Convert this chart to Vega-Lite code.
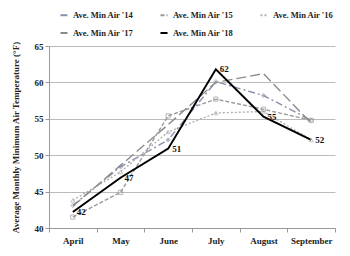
{
  "$schema": "https://vega.github.io/schema/vega-lite/v6.json",
  "width": 286,
  "height": 182,
  "autosize": "none",
  "padding": {"left": 49, "top": 46, "right": 15, "bottom": 28},
  "background": "white",
  "config": {
    "font": "Liberation Serif",
    "view": {"stroke": null}
  },
  "data": {
    "values": [
      {"month": "April", "series": "Ave. Min Air '14", "temp": 43.1},
      {"month": "May", "series": "Ave. Min Air '14", "temp": 48.4},
      {"month": "June", "series": "Ave. Min Air '14", "temp": 52.1},
      {"month": "July", "series": "Ave. Min Air '14", "temp": 60.1},
      {"month": "August", "series": "Ave. Min Air '14", "temp": 58.2},
      {"month": "September", "series": "Ave. Min Air '14", "temp": 54.8},
      {"month": "April", "series": "Ave. Min Air '15", "temp": 41.5},
      {"month": "May", "series": "Ave. Min Air '15", "temp": 44.9},
      {"month": "June", "series": "Ave. Min Air '15", "temp": 55.4},
      {"month": "July", "series": "Ave. Min Air '15", "temp": 57.7},
      {"month": "August", "series": "Ave. Min Air '15", "temp": 56.3},
      {"month": "September", "series": "Ave. Min Air '15", "temp": 54.8},
      {"month": "April", "series": "Ave. Min Air '16", "temp": 43.8},
      {"month": "May", "series": "Ave. Min Air '16", "temp": 47.7},
      {"month": "June", "series": "Ave. Min Air '16", "temp": 53.2},
      {"month": "July", "series": "Ave. Min Air '16", "temp": 55.8},
      {"month": "August", "series": "Ave. Min Air '16", "temp": 56.0},
      {"month": "September", "series": "Ave. Min Air '16", "temp": 52.1},
      {"month": "April", "series": "Ave. Min Air '17", "temp": 43.0},
      {"month": "May", "series": "Ave. Min Air '17", "temp": 48.6},
      {"month": "June", "series": "Ave. Min Air '17", "temp": 54.2},
      {"month": "July", "series": "Ave. Min Air '17", "temp": 60.0},
      {"month": "August", "series": "Ave. Min Air '17", "temp": 61.2},
      {"month": "September", "series": "Ave. Min Air '17", "temp": 54.4},
      {"month": "April", "series": "Ave. Min Air '18", "temp": 42.2},
      {"month": "May", "series": "Ave. Min Air '18", "temp": 46.9},
      {"month": "June", "series": "Ave. Min Air '18", "temp": 50.9},
      {"month": "July", "series": "Ave. Min Air '18", "temp": 61.8},
      {"month": "August", "series": "Ave. Min Air '18", "temp": 55.3},
      {"month": "September", "series": "Ave. Min Air '18", "temp": 52.1}
    ]
  },
  "encoding": {
    "x": {
      "field": "month",
      "type": "nominal",
      "sort": ["April", "May", "June", "July", "August", "September"],
      "scale": {"paddingInner": 0, "paddingOuter": 0},
      "axis": {
        "title": null,
        "labelAngle": 0,
        "labelFont": "Liberation Serif",
        "labelFontWeight": "bold",
        "labelFontSize": 9,
        "labelColor": "#222",
        "tickBand": "extent",
        "domainColor": "#999",
        "tickColor": "#999",
        "tickSize": 4,
        "labelPadding": 4
      }
    },
    "y": {
      "field": "temp",
      "type": "quantitative",
      "scale": {"domain": [40, 65], "nice": false, "zero": false},
      "axis": {
        "title": "Average Monthly Minimum Air Temperature (°F)",
        "titleFont": "Liberation Serif",
        "titleFontWeight": "bold",
        "titleFontSize": 9,
        "titleColor": "#222",
        "titlePadding": 14,
        "values": [40, 45, 50, 55, 60, 65],
        "labelFont": "Liberation Serif",
        "labelFontWeight": "bold",
        "labelFontSize": 9,
        "labelColor": "#222",
        "gridColor": "#bbbbbb",
        "domainColor": "#999",
        "tickColor": "#999",
        "tickSize": 4
      }
    }
  },
  "layer": [
    {
      "transform": [{"filter": "datum.series !== \"Ave. Min Air '18\""}],
      "mark": {"type": "line", "strokeWidth": 1.4},
      "encoding": {
        "color": {
          "field": "series",
          "type": "nominal",
          "scale": {
            "domain": ["Ave. Min Air '14", "Ave. Min Air '15", "Ave. Min Air '16", "Ave. Min Air '17", "Ave. Min Air '18"],
            "range": ["#8890aa", "#9a9a9a", "#b0b0b0", "#8c8c8c", "#000000"]
          },
          "legend": {
            "title": null,
            "orient": "none",
            "direction": "horizontal",
            "legendX": 10,
            "legendY": -36,
            "columns": 3,
            "columnPadding": 22,
            "rowPadding": 8,
            "symbolType": "stroke",
            "symbolSize": 50,
            "symbolStrokeWidth": 2,
            "symbolOpacity": 1,
            "symbolOffset": 0,
            "labelOffset": 4,
            "labelFont": "Liberation Serif",
            "labelFontWeight": "bold",
            "labelFontSize": 8.5,
            "labelColor": "#222",
            "labelLimit": 100
          }
        },
        "strokeDash": {
          "field": "series",
          "type": "nominal",
          "scale": {
            "domain": ["Ave. Min Air '14", "Ave. Min Air '15", "Ave. Min Air '16", "Ave. Min Air '17", "Ave. Min Air '18"],
            "range": [[7, 3, 2, 3], [4, 2], [2, 2], [10, 4], [1, 0]]
          }
        }
      }
    },
    {
      "transform": [{"filter": "datum.series === \"Ave. Min Air '18\""}],
      "mark": {"type": "line", "strokeWidth": 2, "color": "#000000"},
      "encoding": {}
    },
    {
      "transform": [{"filter": "datum.series !== \"Ave. Min Air '17\" && datum.series !== \"Ave. Min Air '18\""}],
      "mark": {"type": "point", "filled": false, "size": 18, "strokeWidth": 1},
      "encoding": {
        "shape": {
          "field": "series",
          "type": "nominal",
          "scale": {
            "domain": ["Ave. Min Air '14", "Ave. Min Air '15", "Ave. Min Air '16"],
            "range": ["diamond", "square", "triangle-up"]
          },
          "legend": null
        },
        "color": {
          "field": "series",
          "type": "nominal",
          "legend": null
        }
      }
    },
    {
      "transform": [{"filter": "datum.series === \"Ave. Min Air '18\""}],
      "mark": {"type": "text", "align": "left", "dx": 4, "dy": 0, "fontWeight": "bold", "fontSize": 9, "font": "Liberation Serif", "color": "#111"},
      "encoding": {
        "text": {"field": "temp", "type": "quantitative", "format": ".0f"}
      }
    }
  ]
}
